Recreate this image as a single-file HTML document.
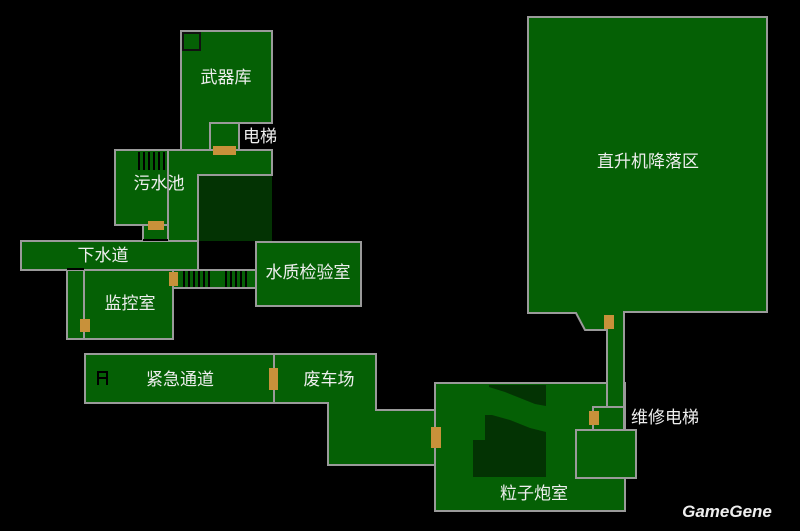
<!DOCTYPE html>
<html><head><meta charset="utf-8"><style>
html,body{margin:0;padding:0;background:#000;width:800px;height:531px;overflow:hidden}
svg{display:block}
text{font-family:"Liberation Sans","Noto Sans CJK SC",sans-serif;fill:#eee;font-size:17px}
</style></head><body>
<svg width="800" height="531" viewBox="0 0 800 531" xmlns="http://www.w3.org/2000/svg">
<rect width="800" height="531" fill="#000"/>
<g fill="#056005" stroke="#9a9a9a" stroke-width="2">
<polygon points="181,31 272,31 272,123 239,123 239,150 181,150"/>
<rect x="210" y="123" width="29" height="27"/>
<polygon points="168,150 272,150 272,175 198,175 198,241 168,241"/>
<rect x="115" y="150" width="53" height="75"/>
<rect x="143" y="225" width="25" height="16"/>
<rect x="21" y="241" width="177" height="29"/>
<rect x="67" y="270" width="17" height="69"/>
<rect x="84" y="270" width="89" height="69"/>
<rect x="173" y="270" width="84" height="18"/>
<rect x="256" y="242" width="105" height="64"/>
<rect x="85" y="354" width="189" height="49"/>
<polygon points="274,354 376,354 376,410 435,410 435,465 328,465 328,403 274,403"/>
<rect x="435" y="383" width="190" height="128"/>
<polygon points="528,17 767,17 767,312 624,312 624,407 607,407 607,330 585,330 576,313 528,313"/>
<rect x="593" y="407" width="31" height="23"/>
<rect x="576" y="430" width="60" height="48"/>
</g>
<rect x="199" y="176" width="73" height="65" fill="#033303"/>
<rect x="183" y="33" width="17" height="17" fill="#056005" stroke="#111" stroke-width="2"/>
<g fill="#000">
<rect x="138" y="152" width="2" height="18"/><rect x="143" y="152" width="2" height="18"/><rect x="148" y="152" width="2" height="18"/><rect x="153" y="152" width="2" height="18"/><rect x="158" y="152" width="2" height="18"/><rect x="163" y="152" width="2" height="18"/>
<rect x="183" y="271" width="2" height="16"/><rect x="188" y="271" width="2" height="16"/><rect x="193" y="271" width="2" height="16"/><rect x="198" y="271" width="2" height="16"/><rect x="203" y="271" width="2" height="16"/><rect x="208" y="271" width="2" height="16"/>
<rect x="225" y="271" width="2" height="16"/><rect x="230" y="271" width="2" height="16"/><rect x="235" y="271" width="2" height="16"/><rect x="240" y="271" width="2" height="16"/><rect x="245" y="271" width="2" height="16"/>
<rect x="143" y="239" width="25" height="2"/><rect x="67" y="268" width="17" height="2"/>
<rect x="97" y="371" width="2" height="14"/><rect x="106" y="371" width="2" height="14"/><rect x="97" y="377" width="11" height="2"/><rect x="97" y="371" width="11" height="2"/>
</g>
<g fill="#033303">
<polygon points="489,385 546,385 546,406 535,404 520,398 505,392 489,387"/>
<polygon points="485,415 492,415 510,420 530,428 546,432 546,477 473,477 473,440 485,440"/>
</g>
<g fill="#c8913a">
<rect x="213" y="146" width="23" height="9"/>
<rect x="148" y="221" width="16" height="9"/>
<rect x="169" y="272" width="9" height="14"/>
<rect x="80" y="319" width="10" height="13"/>
<rect x="269" y="368" width="9" height="22"/>
<rect x="431" y="427" width="10" height="21"/>
<rect x="604" y="315" width="10" height="14"/>
<rect x="589" y="411" width="10" height="14"/>
</g>
<text x="226" y="83" text-anchor="middle">武器库</text>
<text x="260" y="142" text-anchor="middle">电梯</text>
<text x="159" y="189" text-anchor="middle">污水池</text>
<text x="103" y="261" text-anchor="middle">下水道</text>
<text x="130" y="309" text-anchor="middle">监控室</text>
<text x="308" y="278" text-anchor="middle">水质检验室</text>
<text x="180" y="385" text-anchor="middle">紧急通道</text>
<text x="329" y="385" text-anchor="middle">废车场</text>
<text x="534" y="499" text-anchor="middle">粒子炮室</text>
<text x="665" y="423" text-anchor="middle">维修电梯</text>
<text x="648" y="167" text-anchor="middle">直升机降落区</text>
<text x="727" y="517" text-anchor="middle" style="font-weight:bold;font-style:italic;font-size:17px">GameGene</text>
</svg>
</body></html>
